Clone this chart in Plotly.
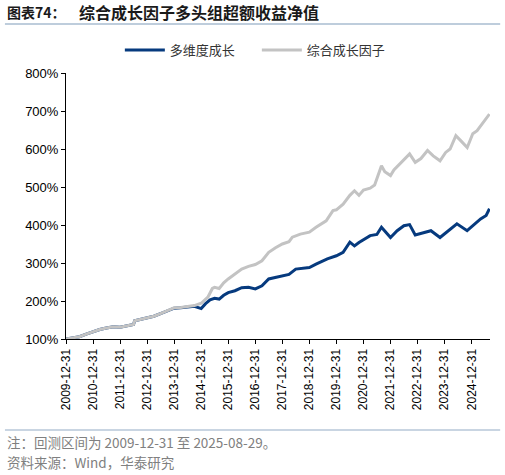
import plotly.graph_objects as go

# Net value of the two strategies (%)
dates_growth = [
    '2009-12-31', '2010-03-31', '2010-06-30', '2010-09-30', '2010-12-31',
    '2011-03-31', '2011-06-30', '2011-09-30', '2011-12-31', '2012-03-31',
    '2012-06-30', '2012-07-15', '2012-09-30', '2012-12-31', '2013-03-31',
    '2013-06-30', '2013-09-30', '2013-12-31', '2014-03-31', '2014-06-30',
    '2014-09-30', '2014-12-31', '2015-03-31', '2015-05-31', '2015-06-30',
    '2015-08-31', '2015-10-31', '2015-12-31', '2016-03-31', '2016-06-30',
    '2016-09-30', '2016-12-31', '2017-03-31', '2017-06-30', '2017-09-30',
    '2017-12-31', '2018-03-31', '2018-05-15', '2018-08-31', '2018-12-31',
    '2019-03-31', '2019-06-30', '2019-08-15', '2019-11-15', '2019-12-31',
    '2020-03-31', '2020-06-30', '2020-08-31', '2020-10-31', '2020-12-31',
    '2021-03-31', '2021-05-31', '2021-08-31', '2021-10-15', '2021-12-31',
    '2022-02-15', '2022-04-30', '2022-07-15', '2022-09-15', '2022-11-30',
    '2023-02-15', '2023-05-15', '2023-07-31', '2023-10-31', '2024-01-15',
    '2024-03-15', '2024-06-01', '2024-08-15', '2024-11-01', '2024-12-15',
    '2025-01-15', '2025-03-15', '2025-05-01', '2025-07-01', '2025-08-29',
]
composite_growth = [
    100, 103, 106, 113, 120,
    125, 129, 132, 131, 134,
    138, 148, 151, 155, 160,
    167, 174, 182, 183, 185,
    188, 194, 210, 233, 236,
    233, 248, 258, 271, 284,
    291, 296, 306, 328, 340,
    350, 356, 368, 376, 381,
    394, 405, 411, 438, 440,
    455, 478, 490, 478, 492,
    497, 505, 556, 540, 530,
    545, 560, 575, 587, 565,
    575, 596, 582, 569, 591,
    600, 635, 620, 604, 625,
    640, 648, 661, 675, 692,
]

dates_multi = [
    '2009-12-31', '2010-03-31', '2010-06-30', '2010-09-30', '2010-12-31',
    '2011-03-31', '2011-06-30', '2011-09-30', '2011-12-31', '2012-03-31',
    '2012-06-30', '2012-07-15', '2012-09-30', '2012-12-31', '2013-03-31',
    '2013-06-30', '2013-09-30', '2013-12-31', '2014-03-31', '2014-06-30',
    '2014-09-30', '2014-12-31', '2015-02-28', '2015-04-30', '2015-06-30',
    '2015-08-31', '2015-10-31', '2015-12-31', '2016-03-31', '2016-06-30',
    '2016-09-30', '2016-12-31', '2017-03-31', '2017-06-30', '2017-09-30',
    '2017-12-31', '2018-03-31', '2018-06-30', '2018-09-30', '2018-12-31',
    '2019-03-31', '2019-06-30', '2019-08-31', '2019-12-31', '2020-03-31',
    '2020-06-30', '2020-08-31', '2020-10-31', '2020-12-31', '2021-03-31',
    '2021-06-30', '2021-08-31', '2021-12-31', '2022-03-31', '2022-06-30',
    '2022-09-15', '2022-11-30', '2023-03-31', '2023-06-30', '2023-10-31',
    '2024-01-31', '2024-06-15', '2024-10-31', '2025-01-15', '2025-05-01',
    '2025-07-15', '2025-08-29',
]
multi_growth = [
    100, 103, 106, 113, 120,
    125, 129, 132, 131, 134,
    138, 148, 151, 155, 160,
    167, 174, 181, 182, 184,
    186, 180, 193, 203, 207,
    205, 215, 222, 227, 235,
    236, 232, 240, 258, 262,
    267, 270, 284, 286, 288,
    297, 305, 311, 319, 328,
    355, 345, 354, 362, 372,
    375, 394, 367, 385, 398,
    401, 374, 380, 385, 367,
    381, 403, 385, 398, 416,
    425, 443,
]

tick_dates = ['%d-12-31' % y for y in range(2009, 2025)]
y_ticks = [100, 200, 300, 400, 500, 600, 700, 800]
y_labels = ['%d%%' % v for v in y_ticks]

cjk = 'Noto Sans CJK SC'

fig = go.Figure()
fig.add_trace(go.Scatter(x=dates_multi, y=multi_growth, name='多维度成长',
                         mode='lines', line=dict(color='#063A7E', width=3)))
fig.add_trace(go.Scatter(x=dates_growth, y=composite_growth, name='综合成长因子',
                         mode='lines', line=dict(color='#C3C3C3', width=3)))

fig.update_layout(
    width=505, height=475,
    margin=dict(l=66, r=15, t=73, b=136),
    plot_bgcolor='white', paper_bgcolor='white',
    font=dict(family='Liberation Sans, Arial', size=12, color='#000000'),
    legend=dict(orientation='h', x=0.127, xanchor='left', y=1.086, yanchor='middle',
                font=dict(family=cjk, size=13, color='#333333'), itemwidth=40,
                entrywidth=82, entrywidthmode='pixels'),
    xaxis=dict(type='date', range=['2009-12-31', '2025-09-05'],
               tickvals=tick_dates, ticktext=tick_dates, tickangle=-90,
               showgrid=False, showline=True, linecolor='#000000', linewidth=1,
               ticks='outside', ticklen=4, tickcolor='#000000',
               tickfont=dict(size=12, color='#000000')),
    yaxis=dict(range=[100, 800], tickvals=y_ticks, ticktext=y_labels,
               showgrid=False, showline=True, linecolor='#000000', linewidth=1,
               ticks='outside', ticklen=4, tickcolor='#000000', zeroline=False,
               tickfont=dict(size=13, color='#000000')),
    annotations=[
        dict(text='<b>图表74：</b>', xref='paper', yref='paper',
             x=-0.144, y=1.229, xanchor='left', yanchor='middle', showarrow=False,
             font=dict(family=cjk, size=14, color='#1a1a1a')),
        dict(text='<b>综合成长因子多头组超额收益净值</b>', xref='paper', yref='paper',
             x=0.026, y=1.229, xanchor='left', yanchor='middle', showarrow=False,
             font=dict(family=cjk, size=16, color='#1a1a1a')),
        dict(text='注：回测区间为 2009-12-31 至 2025-08-29。', xref='paper', yref='paper',
             x=-0.144, y=-0.387, xanchor='left', yanchor='middle', showarrow=False,
             font=dict(family=cjk, size=13.5, color='#808080')),
        dict(text='资料来源：Wind，华泰研究', xref='paper', yref='paper',
             x=-0.144, y=-0.462, xanchor='left', yanchor='middle', showarrow=False,
             font=dict(family=cjk, size=13.5, color='#808080')),
    ],
    shapes=[
        dict(type='line', xref='paper', yref='paper', x0=-0.144, x1=1.024, y0=1.184, y1=1.184,
             line=dict(color='#A9BCD0', width=1.5)),
        dict(type='line', xref='paper', yref='paper', x0=-0.144, x1=1.024, y0=-0.342, y1=-0.342,
             line=dict(color='#C9D5E2', width=2)),
    ],
)

# drop the browser's default 8px body margin so the page lines up with the window
fig.write_html('out.html', config={'displayModeBar': False},
               post_script="document.body.style.margin='0';")
